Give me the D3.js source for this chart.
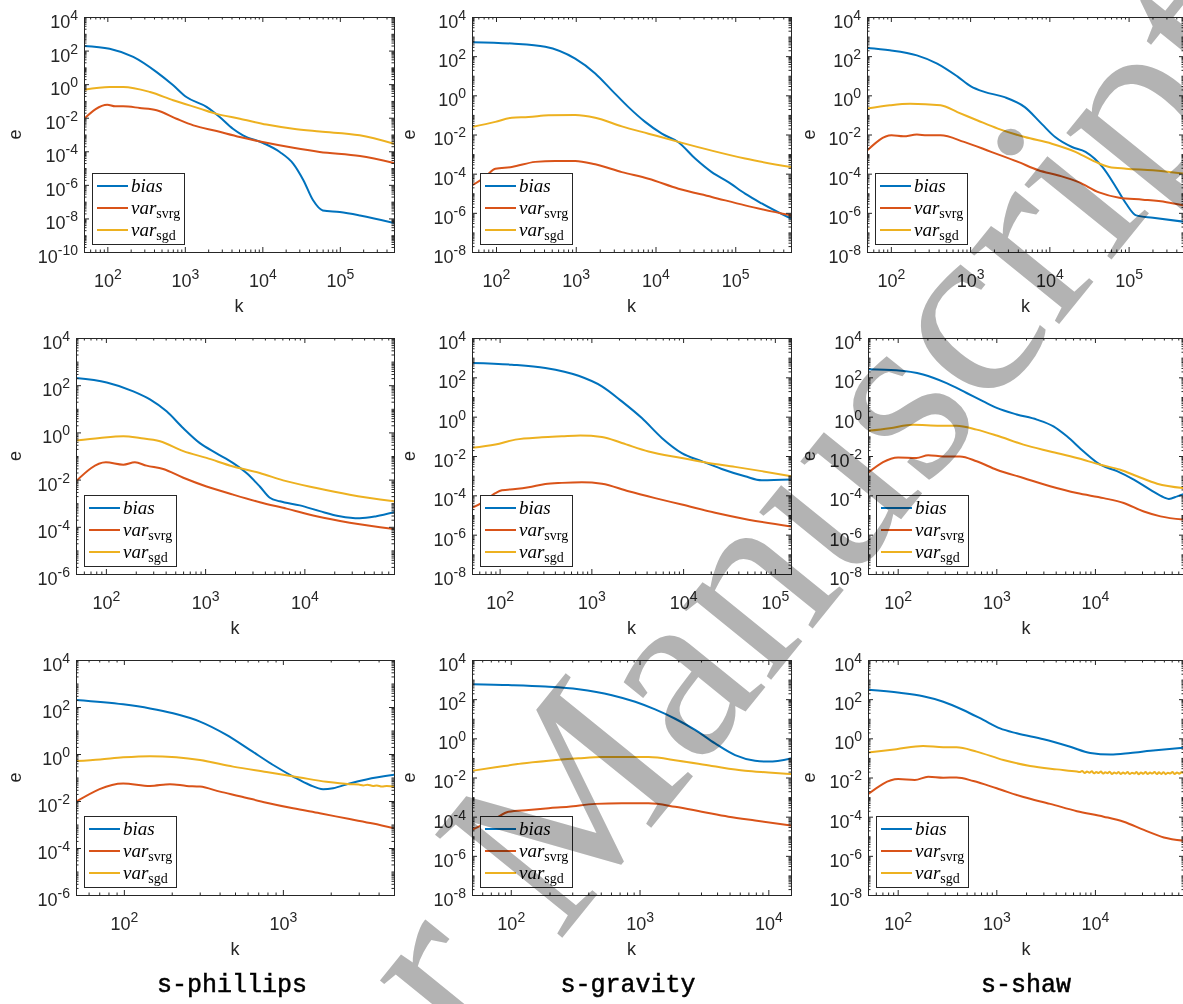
<!DOCTYPE html>
<html><head><meta charset="utf-8">
<script src="https://cdn.jsdelivr.net/npm/d3@7"></script>
<style>body{margin:0;background:#fff}</style>
</head><body>
<svg id="chart" width="1183" height="1004"></svg>
<script>
// ---------- DATA ----------
const problems = ["s-phillips", "s-gravity", "s-shaw"];
const seriesNames = ["bias", "var_svrg", "var_sgd"];

const xDomains = [[50,5e5],[50,5e5],[50,5e5],[50,8e4],[50,1.5e5],[50,8e4],[50,5e3],[50,1.5e4],[50,8e4]];
const yDomains = [[1e-10,1e4],[1e-8,1e4],[1e-8,1e4],[1e-6,1e4],[1e-8,1e4],[1e-8,1e4],[1e-6,1e4],[1e-8,1e4],[1e-8,1e4]];
const xTickExps = [[2,3,4,5],[2,3,4,5],[2,3,4,5],[2,3,4],[2,3,4,5],[2,3,4],[2,3],[2,3,4],[2,3,4]];
const yTickExps = [[4,2,0,-2,-4,-6,-8,-10],[4,2,0,-2,-4,-6,-8],[4,2,0,-2,-4,-6,-8],
                   [4,2,0,-2,-4,-6],[4,2,0,-2,-4,-6,-8],[4,2,0,-2,-4,-6,-8],
                   [4,2,0,-2,-4,-6],[4,2,0,-2,-4,-6,-8],[4,2,0,-2,-4,-6,-8]];

// row 1
const p1Bias = [[50,190],[107,130],[216,42],[433,5.2],[708,0.85],[1047,0.17],[1905,0.044],[2818,0.011],[4169,2.2e-3],[5623,8.9e-4],[10233,3.1e-4],[16788,9.1e-5],[25119,1.8e-5],[33884,1.9e-6],[45186,1.2e-7],[60256,3.0e-8],[1e5,2.4e-8],[181970,1.5e-8],[5e5,5.4e-9]];
const p1Svrg = [[50,8.7e-3],[100,0.060],[126,0.048],[160,0.048],[262,0.038],[433,0.028],[780,8.7e-3],[1290,3.5e-3],[2570,1.6e-3],[5129,7.1e-4],[11300,3.2e-4],[25119,1.6e-4],[54954,9.1e-5],[181970,5.2e-5],[5e5,2.0e-5]];
const p1Sgd = [[50,0.47],[107,0.68],[161,0.68],[355,0.34],[708,0.11],[1563,0.035],[2565,0.017],[5129,8.7e-3],[11300,3.9e-3],[24950,2.2e-3],[55080,1.5e-3],[180300,8.9e-4],[5e5,2.8e-4]];

const p2Bias = [[50,520],[158,440],[414,300],[984,74],[1754,13],[2831,1.8],[4581,0.25],[7413,0.044],[12000,0.011],[19400,4.0e-3],[31400,5.9e-4],[50700,1.2e-4],[82000,3.7e-5],[132700,9.5e-6],[214800,3.0e-6],[5e5,5.0e-7]];
const p2Svrg = [[50,2.5e-5],[73,6.8e-5],[98,1.8e-4],[158,2.2e-4],[310,4.0e-4],[553,4.5e-4],[984,4.5e-4],[1754,3.0e-4],[3784,1.2e-4],[8170,5.5e-5],[19400,1.7e-5],[50700,6.5e-6],[132700,2.4e-6],[5e5,7.4e-7]];
const p2Sgd = [[50,0.024],[98,0.044],[158,0.072],[256,0.078],[457,0.095],[984,0.10],[1754,0.072],[3784,0.026],[8170,0.011],[19400,4.2e-3],[50700,1.5e-3],[132700,5.9e-4],[5e5,2.2e-4]];

const p3Bias = [[50,260],[97,200],[213,110],[384,42],[690,9.3],[1023,2.9],[1514,1.5],[2723,0.81],[4898,0.25],[8000,0.035],[11830,7.4e-3],[19300,2.3e-3],[28600,1.3e-3],[46700,2.2e-4],[69000,2.1e-5],[92700,3.0e-6],[124500,7.4e-7],[203200,5.6e-7],[5e5,3.5e-7]];
const p3Svrg = [[50,1.5e-3],[102,9.1e-3],[144,8.1e-3],[213,0.010],[286,9.1e-3],[424,9.1e-3],[839,4.2e-3],[1841,1.3e-3],[4027,4.0e-4],[7261,1.5e-4],[13060,8.1e-5],[23500,3.7e-5],[42360,1.1e-5],[76200,5.9e-6],[151400,4.7e-6],[300600,3.5e-6],[5e5,2.4e-6]];
const p3Sgd = [[50,0.21],[97,0.31],[175,0.37],[424,0.31],[690,0.14],[1245,0.052],[2240,0.020],[4898,7.4e-3],[10740,3.4e-3],[21300,1.3e-3],[34800,4.8e-4],[56800,2.2e-4],[92700,1.8e-4],[203200,1.5e-4],[5e5,1.0e-4]];

// row 2
const p4Bias = [[50,200],[102,130],[189,55],[278,25],[409,7.8],[603,1.5],[885,0.35],[1303,0.13],[1919,0.050],[2612,0.019],[3556,5.1e-3],[4487,1.7e-3],[5660,1.2e-3],[9000,8.1e-4],[14300,4.6e-4],[22750,2.8e-4],[36150,2.3e-4],[53200,2.8e-4],[8e4,4.1e-4]];
const p4Svrg = [[50,8.5e-3],[100,0.054],[150,0.043],[196,0.054],[257,0.039],[378,0.028],[603,0.012],[1033,5.1e-3],[1919,2.3e-3],[3556,1.1e-3],[6600,5.9e-4],[13240,2.8e-4],[28650,1.5e-4],[8e4,8.1e-5]];
const p4Sgd = [[50,0.45],[87,0.58],[150,0.68],[220,0.58],[351,0.42],[603,0.16],[1033,0.083],[1919,0.036],[3556,0.019],[6110,9.3e-3],[13240,4.4e-3],[28650,2.3e-3],[8e4,1.2e-3]];

const p5Bias = [[50,540],[136,440],[315,300],[725,120],[1303,35],[2150,6.0],[3550,0.85],[5860,0.083],[9680,0.014],[15960,5.4e-3],[26360,2.2e-3],[47300,9.3e-4],[71900,5.8e-4],[1.5e5,6.3e-4]];
const p5Svrg = [[50,2.3e-5],[64,4.1e-5],[90,1.3e-4],[106,1.8e-4],[148,2.1e-4],[207,2.6e-4],[315,3.8e-4],[477,4.3e-4],[789,4.6e-4],[1303,3.9e-4],[2540,1.6e-4],[4955,7.2e-5],[9680,3.4e-5],[22340,1.3e-5],[51500,5.8e-6],[1.5e5,2.6e-6]];
const p5Sgd = [[50,0.026],[90,0.038],[148,0.068],[289,0.089],[477,0.10],[757,0.11],[1303,0.093],[2150,0.046],[4200,0.017],[9680,7.9e-3],[18880,4.4e-3],[36800,2.8e-3],[71900,1.7e-3],[1.5e5,9.3e-4]];

const p6Bias = [[50,260],[97,230],[181,140],[313,51],[500,16],[738,6.0],[1009,2.8],[1611,1.3],[2575,0.71],[3800,0.32],[5200,0.10],[7680,0.017],[11350,3.6e-3],[16750,1.7e-3],[24770,6.3e-4],[36560,1.9e-4],[50000,7.9e-5],[56200,6.6e-5],[68400,8.9e-5],[8e4,1.17e-4]];
const p6Svrg = [[50,1.4e-3],[101,8.5e-3],[155,7.9e-3],[204,0.011],[290,9.5e-3],[428,9.5e-3],[632,5.4e-3],[1009,2.0e-3],[1884,7.6e-4],[3516,2.9e-4],[6570,1.3e-4],[12270,7.2e-5],[19590,4.1e-5],[31330,1.5e-5],[46260,8.5e-6],[8e4,5.8e-6]];
const p6Sgd = [[50,0.19],[83,0.26],[144,0.39],[268,0.35],[395,0.35],[632,0.22],[1009,0.11],[1884,0.038],[3516,0.017],[6570,7.9e-3],[11350,3.6e-3],[18110,2.0e-3],[26790,9.3e-4],[42760,3.9e-4],[8e4,2.3e-4]];

// row 3
const p7Bias = [[50,200],[99,130],[146,87],[204,54],[301,24],[442,6.5],[620,1.5],[869,0.34],[1159,0.11],[1476,0.048],[1790,0.032],[2070,0.035],[2630,0.056],[3350,0.083],[5e3,0.13]];
const p7Svrg = [[50,9.3e-3],[99,0.056],[146,0.044],[195,0.052],[248,0.044],[301,0.041],[402,0.025],[536,0.016],[789,8.5e-3],[1159,4.9e-3],[1706,3.0e-3],[2630,1.7e-3],[3690,1.1e-3],[5e3,6.9e-4]];
const p7Sgd = [[50,0.50],[71,0.59],[99,0.72],[146,0.81],[214,0.72],[301,0.55],[486,0.29],[789,0.17],[1277,0.10],[1879,0.066],[2630,0.052],[3000,0.050],[3200,0.046],[3400,0.049],[3690,0.044],[3900,0.046],[4200,0.041],[4500,0.043],[5e3,0.041]];

const p8Bias = [[50,580],[102,520],[185,440],[336,320],[610,160],[925,74],[1321,30],[1890,10],[2700,2.7],[3860,0.55],[5520,0.14],[7890,0.072],[10000,0.065],[1.5e4,0.095]];
const p8Svrg = [[50,2.1e-5],[76,8.1e-5],[96,1.8e-4],[138,2.2e-4],[197,2.7e-4],[281,3.2e-4],[453,4.5e-4],[729,4.8e-4],[1175,4.8e-4],[1890,3.2e-4],[3040,1.8e-4],[4900,1.0e-4],[7890,6.3e-5],[1.5e4,3.5e-5]];
const p8Sgd = [[50,0.022],[76,0.033],[122,0.052],[197,0.072],[336,0.095],[510,0.11],[820,0.11],[1175,0.11],[2005,0.072],[3640,0.039],[6600,0.022],[10000,0.018],[1.5e4,0.015]];

const p9Bias = [[50,300],[105,210],[181,140],[290,74],[462,28],[738,8.7],[1091,3.2],[1611,1.8],[3013,0.89],[5620,0.37],[8970,0.18],[14350,0.15],[22900,0.18],[36560,0.23],[8e4,0.33]];
const p9Svrg = [[50,1.4e-3],[101,8.3e-3],[149,7.4e-3],[204,0.011],[290,9.8e-3],[395,0.010],[585,6.6e-3],[1009,2.8e-3],[1884,1.0e-3],[3516,4.5e-4],[6570,1.9e-4],[12270,1.0e-4],[19590,5.5e-5],[31330,2.1e-5],[50000,8.7e-6],[8e4,5.9e-6]];
const p9Sgd = [[50,0.19],[97,0.28],[181,0.41],[290,0.35],[395,0.35],[632,0.21],[1180,0.078],[2200,0.039],[4110,0.026],[6570,0.020],
  [7000,0.0190],[7400,0.0212],[7900,0.0170],[8300,0.0200],[8800,0.0176],[9300,0.0208],[9800,0.0163],[10300,0.0189],[10900,0.0172],[11500,0.0201],
  [12100,0.0158],[12700,0.0185],[13400,0.0166],[14100,0.0197],[14900,0.0152],[15700,0.0181],[16500,0.0160],[17400,0.0193],[18300,0.0150],[19300,0.0179],
  [20300,0.0157],[21400,0.0190],[22600,0.0149],[23800,0.0176],[25100,0.0158],[26400,0.0192],[27800,0.0147],[29300,0.0180],[30900,0.0155],[32600,0.0189],
  [34300,0.0150],[36200,0.0178],[38100,0.0160],[40200,0.0191],[42300,0.0149],[44600,0.0183],[47000,0.0153],[49500,0.0186],[52200,0.0148],[55000,0.0177],
  [58000,0.0159],[61100,0.0190],[64400,0.0151],[67900,0.0181],[71600,0.0155],[75500,0.0187],[8e4,0.0165]];

const panelSeries = [
  [p1Bias,p1Svrg,p1Sgd],[p2Bias,p2Svrg,p2Sgd],[p3Bias,p3Svrg,p3Sgd],
  [p4Bias,p4Svrg,p4Sgd],[p5Bias,p5Svrg,p5Sgd],[p6Bias,p6Svrg,p6Sgd],
  [p7Bias,p7Svrg,p7Sgd],[p8Bias,p8Svrg,p8Sgd],[p9Bias,p9Svrg,p9Sgd]];

// ---------- LAYOUT / STYLE ----------
const W = 1183, H = 1004;
const rowTop = [17, 338, 660], rowBottom = [252, 574, 895];
const colLeft = [[84,472,867],[76,472,868],[76,472,868]];
const colRight = [394, 791, 1184];
const yLabelX = [16.5, 410.5, 810.5];
const titleX = [232, 628, 1026], titleY = 992;
const colors = ["#0072BD", "#D95319", "#EDB120"];
const axisColor = "#262626";
const sans = "'Liberation Sans', Arial, Helvetica, sans-serif";
const serif = "'Liberation Serif', 'Times New Roman', serif";

const svg = d3.select("#chart");
svg.append("rect").attr("width", W).attr("height", H).attr("fill", "#fff");
const defs = svg.append("defs");

function minorTicks(domain, majors) {
  const out = [];
  const lo = Math.floor(Math.log10(domain[0])), hi = Math.ceil(Math.log10(domain[1]));
  for (let n = lo; n <= hi; n++) {
    for (let m = 1; m <= 9; m++) {
      const v = m * Math.pow(10, n);
      if (v >= domain[0] * 0.9999 && v <= domain[1] * 1.0001 &&
          !majors.some(M => Math.abs(M - v) / v < 1e-9)) out.push(v);
    }
  }
  return out;
}

function supLabel(sel) {
  sel.each(function(d) {
    const t = d3.select(this);
    const e = Math.round(Math.log10(d));
    t.text(null);
    t.append("tspan").text("10");
    t.append("tspan").attr("dy", -8).attr("font-size", 14).text(String(e));
  });
}

function styleAxis(g) {
  g.attr("font-family", sans).attr("font-size", 18).attr("fill", axisColor);
  g.select(".domain").remove();
  g.selectAll(".tick line").attr("stroke", axisColor).attr("stroke-width", 1);
  g.selectAll(".tick text").attr("fill", axisColor);
}

panelSeries.forEach((series, i) => {
  const r = Math.floor(i / 3), c = i % 3;
  const x0 = colLeft[r][c], x1 = colRight[c], y0 = rowTop[r], y1 = rowBottom[r];
  const x = d3.scaleLog().domain(xDomains[i]).range([x0, x1]);
  const y = d3.scaleLog().domain(yDomains[i]).range([y1, y0]);
  const g = svg.append("g");

  const clipId = "clip" + i;
  defs.append("clipPath").attr("id", clipId).append("rect")
    .attr("x", x0).attr("y", y0).attr("width", x1 - x0).attr("height", y1 - y0);

  // data lines
  const line = d3.line().x(d => x(d[0])).y(d => y(d[1])).curve(d3.curveMonotoneX);
  const lg = g.append("g").attr("clip-path", `url(#${clipId})`);
  series.forEach((s, j) => {
    lg.append("path").attr("d", line(s)).attr("fill", "none")
      .attr("stroke", colors[j]).attr("stroke-width", 2)
      .attr("stroke-linejoin", "round").attr("stroke-linecap", "round");
  });

  const xMajor = xTickExps[i].map(e => Math.pow(10, e));
  const yMajor = yTickExps[i].map(e => Math.pow(10, e));
  const xMinor = minorTicks(xDomains[i], xMajor);
  const yMinor = minorTicks(yDomains[i], yMajor);

  // minor ticks (all four sides)
  g.append("g").attr("transform", `translate(0,${y1})`)
    .call(d3.axisBottom(x).tickValues(xMinor).tickSizeInner(-2.5).tickSizeOuter(0).tickFormat(() => ""))
    .call(styleAxis);
  g.append("g").attr("transform", `translate(0,${y0})`)
    .call(d3.axisTop(x).tickValues(xMinor).tickSizeInner(-2.5).tickSizeOuter(0).tickFormat(() => ""))
    .call(styleAxis);
  g.append("g").attr("transform", `translate(${x0},0)`)
    .call(d3.axisLeft(y).tickValues(yMinor).tickSizeInner(-2.5).tickSizeOuter(0).tickFormat(() => ""))
    .call(styleAxis);
  g.append("g").attr("transform", `translate(${x1},0)`)
    .call(d3.axisRight(y).tickValues(yMinor).tickSizeInner(-2.5).tickSizeOuter(0).tickFormat(() => ""))
    .call(styleAxis);

  // major ticks + labels
  const bx = g.append("g").attr("transform", `translate(0,${y1})`)
    .call(d3.axisBottom(x).tickValues(xMajor).tickSizeInner(-5).tickSizeOuter(0).tickPadding(22).tickFormat(() => ""))
    .call(styleAxis);
  bx.selectAll(".tick text").call(supLabel);
  g.append("g").attr("transform", `translate(0,${y0})`)
    .call(d3.axisTop(x).tickValues(xMajor).tickSizeInner(-5).tickSizeOuter(0).tickFormat(() => ""))
    .call(styleAxis);
  const ly = g.append("g").attr("transform", `translate(${x0},0)`)
    .call(d3.axisLeft(y).tickValues(yMajor).tickSizeInner(-5).tickSizeOuter(0).tickPadding(6).tickFormat(() => ""))
    .call(styleAxis);
  ly.selectAll(".tick text").attr("dy", "0.58em").call(supLabel);
  g.append("g").attr("transform", `translate(${x1},0)`)
    .call(d3.axisRight(y).tickValues(yMajor).tickSizeInner(-5).tickSizeOuter(0).tickFormat(() => ""))
    .call(styleAxis);

  // frame
  g.append("rect").attr("x", x0 + 0.5).attr("y", y0 + 0.5)
    .attr("width", x1 - x0).attr("height", y1 - y0)
    .attr("fill", "none").attr("stroke", axisColor).attr("stroke-width", 1);

  // axis labels
  g.append("text").attr("x", (x0 + x1) / 2).attr("y", y1 + 59.5)
    .attr("text-anchor", "middle").attr("font-family", sans).attr("font-size", 18)
    .attr("fill", axisColor).text("k");
  const ey = (y0 + y1) / 2;
  g.append("text").attr("transform", `translate(${yLabelX[c] + 4.7},${ey}) rotate(-90)`)
    .attr("text-anchor", "middle").attr("font-family", sans).attr("font-size", 18)
    .attr("fill", axisColor).text("e");

  // legend
  const lx = x0 + 8, lbot = y1 - 8, lh = 71, lw = 92, ltop = lbot - lh;
  const leg = g.append("g");
  leg.append("rect").attr("x", lx + 0.5).attr("y", ltop + 0.5).attr("width", lw).attr("height", lh)
    .attr("fill", "#fff").attr("stroke", axisColor).attr("stroke-width", 1);
  const entryDy = [13, 35, 57];
  seriesNames.forEach((name, j) => {
    const ly2 = ltop + entryDy[j];
    leg.append("line").attr("x1", lx + 5).attr("x2", lx + 36).attr("y1", ly2).attr("y2", ly2)
      .attr("stroke", colors[j]).attr("stroke-width", 2);
    const t = leg.append("text").attr("x", lx + 39).attr("y", ly2 + 5.5)
      .attr("font-family", serif).attr("font-size", 19).attr("fill", "#000");
    const parts = name.split("_");
    t.append("tspan").attr("font-style", "italic").text(parts[0]);
    if (parts[1]) t.append("tspan").attr("dy", 4).attr("font-size", 14).text(parts[1]);
  });
});

// column titles
problems.forEach((p, c) => {
  svg.append("text").attr("x", titleX[c]).attr("y", titleY).attr("text-anchor", "middle")
    .attr("font-family", "'Liberation Mono', 'Courier New', monospace").attr("font-size", 25)
    .attr("fill", "#000").attr("stroke", "#000").attr("stroke-width", 0.5).text(p);
});

// "Author Manuscript" watermark overlay (it runs off the page edges in the reference too)
const wm = svg.append("g").attr("transform", "translate(558,943) rotate(-51)")
  .style("mix-blend-mode", "multiply");
wm.append("text").attr("x", -771).attr("y", 0)
  .attr("font-family", serif).attr("font-size", 250).attr("fill", "#b3b3b3")
  .text("Author Manuscript");
</script>
</body></html>
